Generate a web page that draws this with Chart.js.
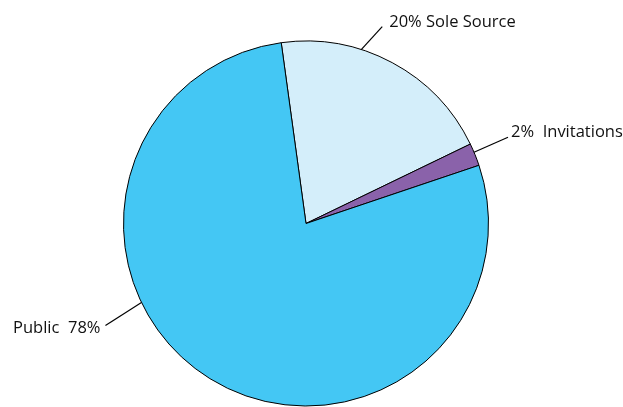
<!DOCTYPE html>
<html>
<head>
<meta charset="utf-8">
<script src="https://cdn.jsdelivr.net/npm/chart.js@4"></script>
<style>
  html, body { margin: 0; padding: 0; background: #fff; overflow: hidden; }
  canvas { display: block; }
</style>
</head>
<body>
<canvas id="pie" width="623" height="407"></canvas>
<script>
const categories = ['Sole Source', 'Invitations', 'Public'];
const shares = [20, 2, 78];
const labelTexts = ['20% Sole Source', '2%  Invitations', 'Public  78%'];

// where each leader line leaves the slice (fraction along the arc), how far it runs,
// and where the text sits relative to the line's end
const leaders = [
  { at: 0.353, dx: 21, dy: -23, align: 'left', tx: 7, ty: 0 },
  { at: 0.39, dx: 34, dy: -15, align: 'left', tx: 3, ty: 0 },
  { at: 0.616, dx: -36, dy: 23, align: 'right', tx: -5, ty: 8 }
];

const calloutPlugin = {
  id: 'callouts',
  afterDatasetsDraw(chart) {
    const ctx = chart.ctx;
    const arcs = chart.getDatasetMeta(0).data;
    ctx.save();
    ctx.strokeStyle = '#000';
    ctx.lineWidth = 1.2;
    ctx.fillStyle = '#111';
    ctx.font = '16.5px "Open Sans"';
    ctx.textBaseline = 'alphabetic';
    arcs.forEach((arc, i) => {
      const L = leaders[i];
      const p = arc.getProps(['x', 'y', 'startAngle', 'endAngle', 'outerRadius'], true);
      const a = p.startAngle + (p.endAngle - p.startAngle) * L.at;
      const x0 = p.x + Math.cos(a) * p.outerRadius;
      const y0 = p.y + Math.sin(a) * p.outerRadius;
      const x1 = x0 + L.dx;
      const y1 = y0 + L.dy;
      ctx.beginPath();
      ctx.moveTo(x0, y0);
      ctx.lineTo(x1, y1);
      ctx.stroke();
      ctx.textAlign = L.align;
      ctx.fillText(labelTexts[i], x1 + L.tx, y1 + L.ty);
    });
    ctx.restore();
  }
};

new Chart(document.getElementById('pie'), {
  type: 'pie',
  data: {
    labels: categories,
    datasets: [{
      data: shares,
      backgroundColor: ['#D4EEFA', '#8A62AA', '#44C7F4'],
      borderColor: '#000',
      borderWidth: 1
    }]
  },
  options: {
    responsive: false,
    animation: false,
    rotation: -7.8,
    layout: { padding: { top: 40, bottom: 0, left: 123, right: 134 } },
    plugins: {
      legend: { display: false },
      tooltip: { enabled: false }
    }
  },
  plugins: [calloutPlugin]
});
</script>
</body>
</html>
